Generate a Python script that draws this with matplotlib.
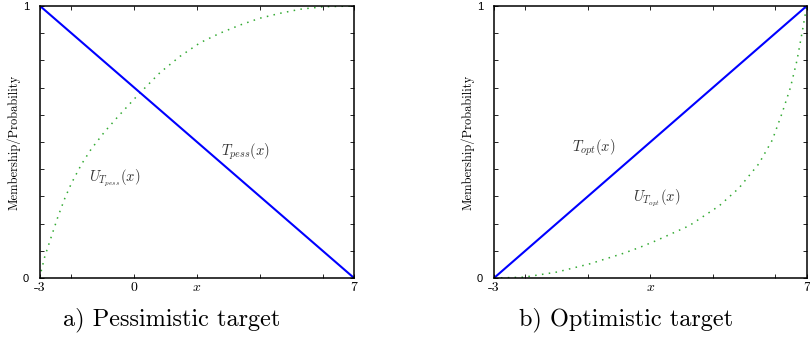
import numpy as np
import matplotlib.pyplot as plt

plt.rcParams['mathtext.fontset'] = 'cm'
plt.rcParams['axes.unicode_minus'] = False

# straight target memberships
x_line = [-3, 7]
t_pess = [1, 0]
t_opt = [0, 1]

# utility curves
x_upess = [-3, -2.98, -2.85, -2.64, -2.43, -2.21, -2.0, -1.68, -1.37, -0.94, -0.52, 0.12,
           0.82, 1.46, 2.1, 2.73, 3.37, 4.0, 4.64, 5.28, 6.0, 7]
u_pess = [0, 0.017, 0.078, 0.152, 0.225, 0.293, 0.348, 0.418, 0.474, 0.538, 0.593, 0.673,
          0.755, 0.815, 0.865, 0.90, 0.93, 0.955, 0.973, 0.988, 0.997, 1]
x_uopt = [-3, -2.04, -0.98, 0.06, 1.12, 1.65, 2.18, 3.24, 4.2, 4.83, 5.47, 5.9, 6.21,
          6.48, 6.69, 6.85, 6.96, 7]
u_opt = [0, 0.003, 0.022, 0.052, 0.09, 0.112, 0.137, 0.192, 0.265, 0.33, 0.42, 0.507, 0.605,
         0.70, 0.80, 0.90, 0.973, 1]

xticks = [-3, -2, 0, 2, 4, 6, 7]
xlabels_a = ['-3', '', '0', '$x$', '', '', '7']
xlabels_b = ['-3', '', '', '$x$', '', '', '7']

fig = plt.figure(figsize=(8.1, 3.54), dpi=100)
ax1 = fig.add_axes([0.0494, 0.2147, 0.3877, 0.7684])
ax2 = fig.add_axes([0.6099, 0.2147, 0.3860, 0.7684])

def style(ax, xlabels):
    ax.set_xlim(-3, 7)
    ax.set_ylim(0, 1)
    ax.set_xticks(xticks)
    ax.set_xticklabels(xlabels, fontsize=10, family='cmr10')
    ax.set_yticks(np.linspace(0, 1, 11))
    ax.set_yticklabels(['0'] + [''] * 9 + ['1'], fontsize=8, family='Liberation Sans')
    ax.tick_params(direction='in', top=True, right=True, length=3, width=0.6, pad=3)
    ax.tick_params(axis='y', pad=8)
    for s in ax.spines.values():
        s.set_linewidth(1.1)
    ax.set_ylabel('Membership/Probability', fontsize=9, family='cmr10', va='center')
    ax.yaxis.set_label_coords(-0.083, 0.5)

dots = (0, (1, 3.5))
ax1.plot(x_upess, u_pess, linestyle=dots, color='#33aa33', lw=1.1)
ax1.plot(x_line, t_pess, color='#0000ff', lw=1.5)
ax1.text(3.55, 0.463, r'$T_{pess}(x)$', fontsize=10.5, ha='center', va='center', color='#333333')
ax1.text(-0.61, 0.37, r'$U_{T_{pess}}(x)$', fontsize=10.5, ha='center', va='center', color='#333333')
style(ax1, xlabels_a)

ax2.plot(x_uopt, u_opt, linestyle=dots, color='#33aa33', lw=1.1)
ax2.plot(x_line, t_opt, color='#0000ff', lw=1.5)
ax2.text(0.18, 0.478, r'$T_{opt}(x)$', fontsize=10.5, ha='center', va='center', color='#333333')
ax2.text(2.21, 0.294, r'$U_{T_{opt}}(x)$', fontsize=10.5, ha='center', va='center', color='#333333')
style(ax2, xlabels_b)

fig.text(0.2125, 0.096, 'a) Pessimistic target', fontsize=17.5, family='cmr10', ha='center', va='center')
fig.text(0.773, 0.096, 'b) Optimistic target', fontsize=17.5, family='cmr10', ha='center', va='center')

fig.savefig('out.png', dpi=100)
